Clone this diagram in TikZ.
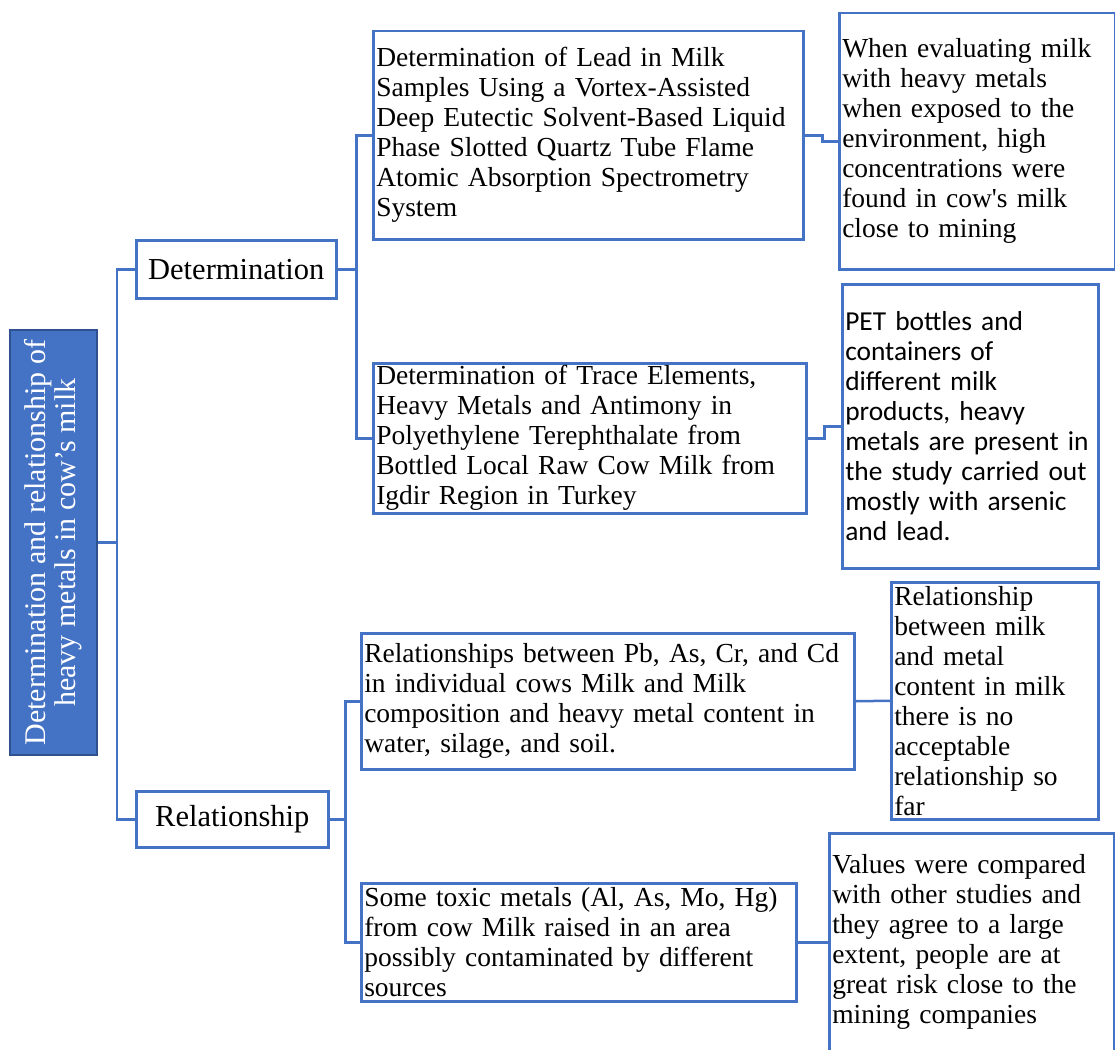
\documentclass[tikz,border=0pt]{standalone}
\usepackage{fontspec}
\setmainfont{Liberation Serif}
\newfontfamily\calibfont{Carlito}
\usetikzlibrary{positioning}
\definecolor{lineblue}{HTML}{4472C4}
\definecolor{rootedge}{HTML}{2F528F}

\begin{document}
\begin{tikzpicture}[x=1pt,y=-1pt,font=\fontsize{27.5}{30}\selectfont,
    leaf/.style={draw=lineblue,line width=2.5pt,anchor=north west,align=left,inner xsep=3pt,inner ysep=0pt},
    branch/.style={leaf,align=center,font=\fontsize{30.5}{32}\selectfont},
    link/.style={draw=lineblue,line width=2.5pt}]
      \useasboundingbox (0,0) rectangle (1115,1049);

      % root
      \node[rotate=90,fill=lineblue,draw=rootedge,line width=2pt,text=white,align=center,
            minimum width=425,minimum height=87,inner sep=0pt,font=\fontsize{30}{30}\selectfont] (root) at (53.5,542.5)
            {Determination and relationship of\\heavy metals in cow's milk};

      % main branches
      \node[branch,minimum width=200,minimum height=58] (det) at (135,239) {Determination};
      \node[branch,minimum width=192,minimum height=56] (rel) at (135,790) {Relationship};

      % determination studies
      \node[leaf,minimum width=430,minimum height=208,text width=424] (lead) at (372,30)
            {Determination of Lead in Milk\\Samples Using a Vortex-Assisted\\Deep Eutectic Solvent-Based Liquid\\Phase Slotted Quartz Tube Flame\\Atomic Absorption Spectrometry\\System};
      \node[leaf,minimum width=433,minimum height=150,text width=427] (trace) at (372,362)
            {Determination of Trace Elements,\\Heavy Metals and Antimony in\\Polyethylene Terephthalate from\\Bottled Local Raw Cow Milk from\\Igdir Region in Turkey};

      % relationship studies
      \node[leaf,minimum width=493,minimum height=136,text width=487] (pbas) at (360,632)
            {Relationships between Pb, As, Cr, and Cd\\in individual cows Milk and Milk\\composition and heavy metal content in\\water, silage, and soil.};
      \node[leaf,minimum width=435,minimum height=118,text width=429] (toxic) at (360,882)
            {Some toxic metals (Al, As, Mo, Hg)\\from cow Milk raised in an area\\possibly contaminated by different\\sources};

      % findings
      \node[leaf,minimum width=276,minimum height=256,text width=270] (mining) at (838,12)
            {When evaluating milk\\with heavy metals\\when exposed to the\\environment, high\\concentrations were\\found in cow\textquotesingle s milk\\close to mining};
      \node[leaf,minimum width=256,minimum height=284,text width=250,font=\calibfont\fontsize{27.4}{30}\selectfont] (pet) at (841,283)
            {PET bottles and\\containers of\\different milk\\products, heavy\\metals are present in\\the study carried out\\mostly with arsenic\\and lead.};
      \node[leaf,minimum width=207,minimum height=237,text width=201] (norel) at (890,581)
            {Relationship\\between milk\\and metal\\content in milk\\there is no\\acceptable\\relationship so\\far};
      \node[leaf,minimum width=285,minimum height=218,text width=279] (risk) at (828,832)
            {Values were compared\\with other studies and\\they agree to a large\\extent, people are at\\great risk close to the\\mining companies};

      % tree lines
      \draw[link] (root.south) -- ++(19,0) coordinate (trunk0);
      \draw[link] (det.west) -| (trunk0) |- (rel.west);
      \draw[link] (det.east) -- ++(19,0) coordinate (trunk1);
      \draw[link] (lead.west) -| (trunk1) |- (trace.west);
      \draw[link] (rel.east) -- ++(16,0) coordinate (trunk2);
      \draw[link] (pbas.west) -| (trunk2) |- (toxic.west);

      % studies -> findings
      \draw[link] (lead.east) -- ++(18,0) |- (mining.west);
      \draw[link] (trace.east) -- ++(17,0) |- (pet.west);
      \draw[link] (pbas.east) -- (norel.west);
      \draw[link] (toxic.east) -- (risk.west);

   \end{tikzpicture}
\end{document}
